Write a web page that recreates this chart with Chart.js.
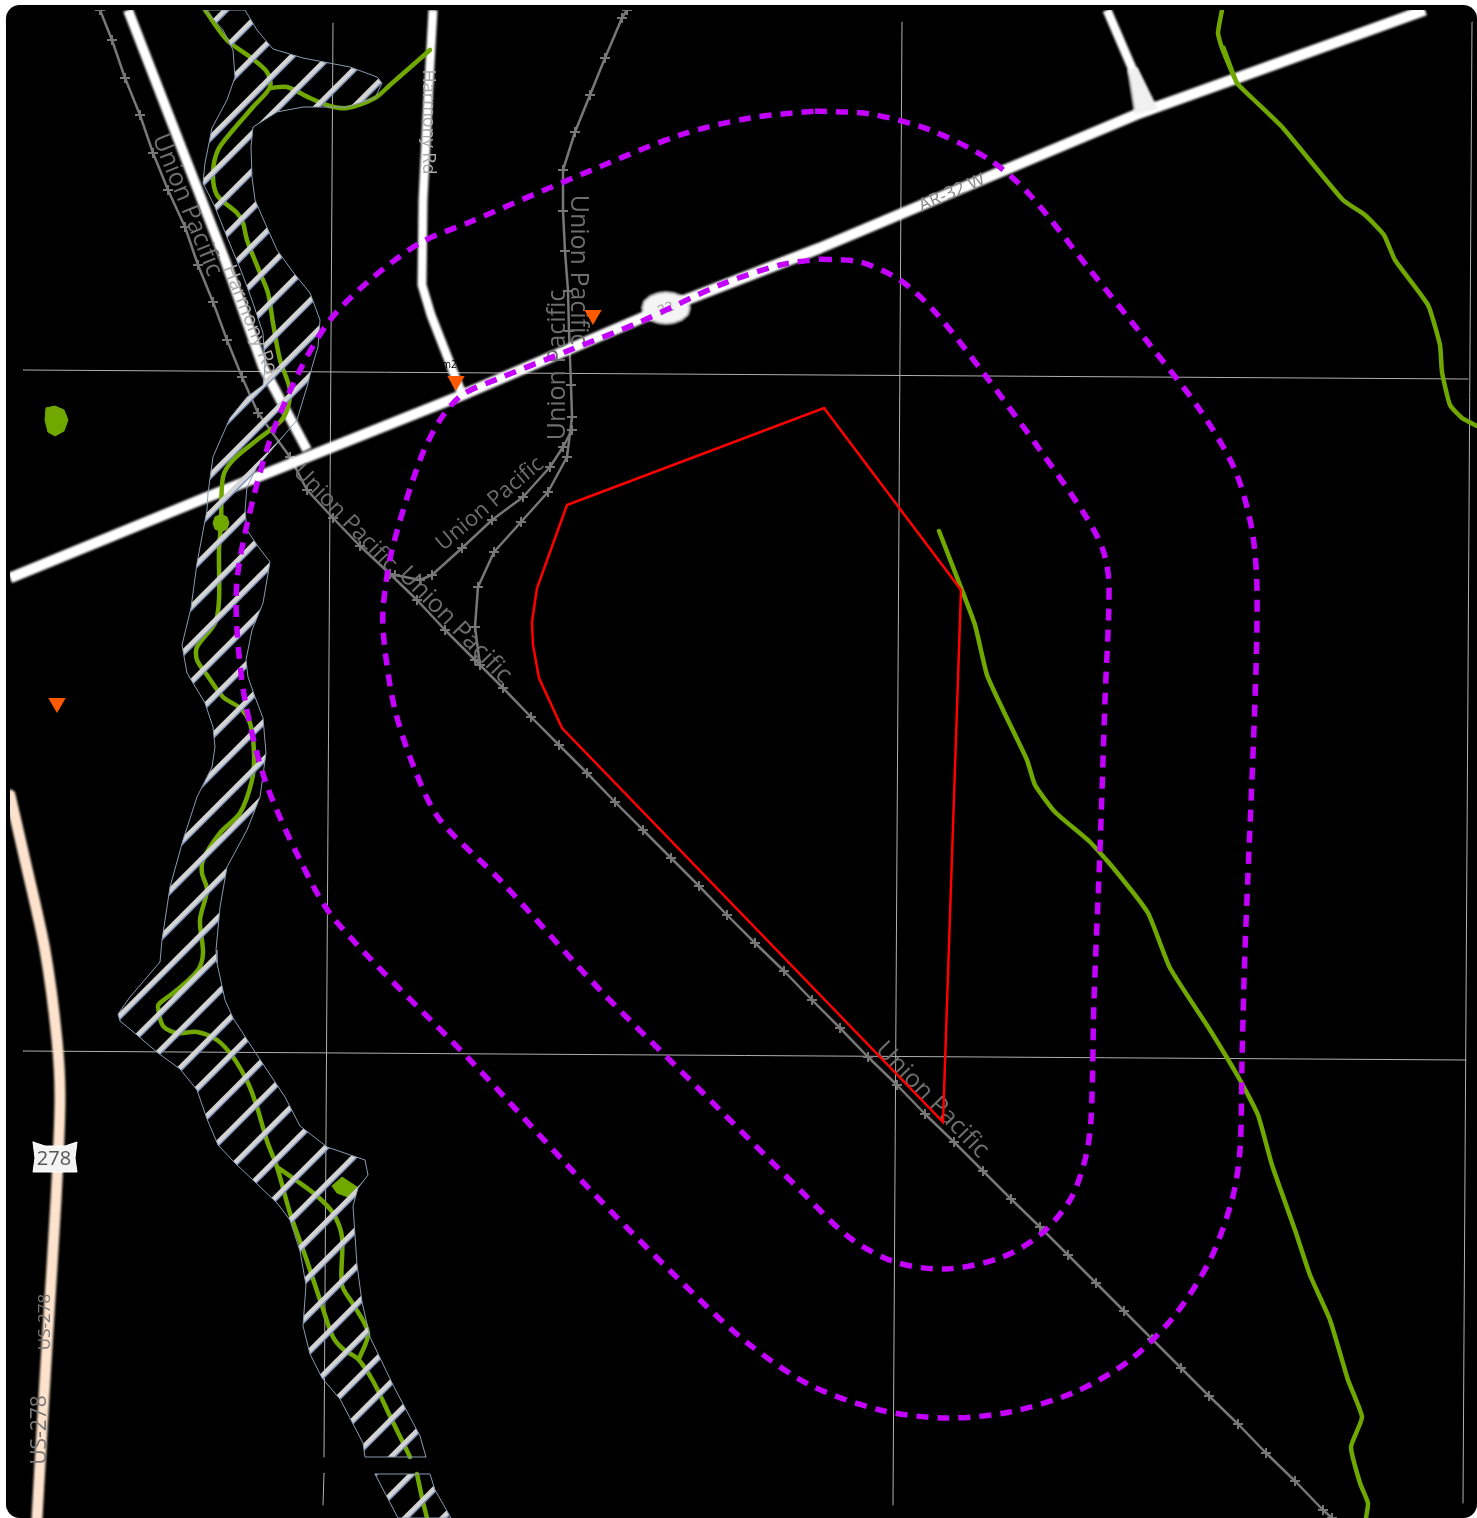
<!DOCTYPE html>
<html>
<head>
<meta charset="utf-8">
<title>Map</title>
<script src="https://cdn.jsdelivr.net/npm/chart.js@4"></script>
<style>
  html, body { margin: 0; padding: 0; background: #fff; }
  #frame { position: absolute; left: 6px; top: 5px; width: 1471px; height: 1513px; background: #000; border-radius: 14px; box-shadow: 0 0 1px #aaa; }
  #mapChart { position: absolute; left: 10px; top: 10px; }
</style>
</head>
<body>
<div id="frame"></div>
<canvas id="mapChart" width="1467" height="1508"></canvas>
<script>
// all values, in picture coordinates
const gridH1 = [[23,370],[1468,379]];
const gridH2 = [[23,1051],[1466,1060]];
const gridV1a = [[333,23],[324,1457]];
const gridV1b = [[324,1473],[323,1505]];
const gridV2 = [[902,22],[893,1505]];
const gridV3 = [[1472,22],[1463,1503]];

const mainRoad = [[10,578],[200,500],[300,460],[460,396],[665,308],[820,248],[1140,113],[1240,77],[1425,10]];
const highway = [[128,10],[225,260],[263,367],[307,450]];
const sideRoad = [[433,10],[428,100],[423,200],[422,285],[431,315],[462,394]];
const northRoad = [[1107,10],[1135,75],[1152,112]];
const northFlare = [[1128,70],[1137,68],[1157,108],[1135,114],[1128,70]];
const us278 = [[10,795],[25,860],[45,950],[57,1040],[60,1100],[56,1200],[48,1330],[42,1430],[37,1518]];
const shield32 = [[642,308],[644,301],[650,296],[658,293],[666,292],[674,293],[682,296],[688,301],[690,308],[688,315],[682,320],[674,323],[666,324],[658,323],[650,320],[644,315],[642,308]];
const shield278 = [[33,1142],[45,1146],[65,1146],[77,1142],[75,1158],[77,1172],[33,1172],[35,1158],[33,1142]];

const railMain = [[100,10],[112,40],[125,78],[140,115],[153,153],[168,190],[185,227],[198,265],[213,302],[227,340],[242,377],[258,413],[290,457],[307,490],[333,518],[360,546],[390,574],[417,600],[445,630],[475,660],[503,688],[531,717],[559,745],[587,773],[615,802],[643,830],[671,858],[699,886],[727,915],[755,943],[784,971],[812,1000],[840,1028],[868,1057],[897,1085],[925,1114],[954,1142],[983,1171],[1011,1199],[1040,1227],[1068,1255],[1096,1283],[1124,1311],[1152,1339],[1181,1368],[1209,1396],[1238,1424],[1266,1453],[1295,1481],[1323,1510],[1332,1518]];
const railNorth = [[627,10],[622,18],[605,58],[590,95],[575,132],[563,170],[563,211],[565,251],[568,291],[569,331],[571,385],[572,417],[567,457],[548,492],[521,522],[494,552],[478,587],[475,627],[480,665]];
const railBranch = [[572,430],[563,447],[550,467],[523,497],[492,520],[462,548],[432,575],[420,580],[395,575]];

const streamMain = [[205,10],[227,40],[250,57],[267,72],[270,87],[253,107],[233,130],[218,150],[213,173],[217,195],[237,213],[243,223],[247,240],[260,273],[268,293],[273,323],[280,360],[290,390],[287,410],[280,422],[257,440],[233,460],[223,477],[221,523],[219,550],[219,600],[215,623],[197,647],[197,660],[207,675],[223,697],[240,708],[250,723],[254,753],[252,780],[240,813],[220,833],[203,860],[202,873],[207,890],[200,920],[203,953],[198,970],[177,990],[160,1003],[158,1007],[163,1026],[177,1033],[197,1032],[217,1040],[233,1057],[248,1083],[257,1107],[267,1141],[277,1167],[290,1213],[307,1261],[323,1309],[333,1337],[343,1349],[358,1359],[373,1381],[390,1416],[410,1457]];
const streamEast = [[270,88],[287,87],[310,98],[330,106],[347,108],[375,98],[390,85],[430,50]];
const streamLoop = [[277,1167],[297,1181],[317,1196],[333,1213],[342,1237],[342,1285],[353,1304],[368,1333],[359,1359]];
const streamLow = [[417,1474],[422,1498],[427,1518]];
const streamNE = [[1222,10],[1218,33],[1222,48],[1237,83],[1252,98],[1283,128],[1343,200],[1365,215],[1384,235],[1395,260],[1428,305],[1440,345],[1442,372],[1450,405],[1462,418],[1477,426]];
const streamNE2 = [[1224,47],[1238,85]];
const streamCentre = [[939,531],[960,585],[975,625],[987,675],[1003,710],[1027,760],[1035,785],[1055,812],[1090,842],[1115,870],[1148,913],[1170,968],[1210,1030],[1240,1080],[1258,1115],[1272,1165],[1295,1230],[1310,1275],[1330,1320],[1348,1380],[1362,1417],[1351,1447],[1360,1483],[1368,1503],[1366,1518]];
const pondA = [[46,408],[55,406],[64,410],[68,420],[64,431],[55,436],[48,432],[45,420],[46,408]];
const pondB = [[332,1186],[342,1177],[357,1187],[348,1197],[337,1193],[332,1186]];
const pondC = [[221,514],[227,517],[229,523],[227,529],[221,532],[215,529],[213,523],[215,517],[221,514]];

const riverUpper = [[245,10],[257,30],[273,49],[303,58],[350,67],[377,77],[382,83],[375,98],[347,107],[303,107],[277,112],[253,127],[251,147],[252,177],[255,200],[265,223],[277,250],[293,272],[310,293],[320,320],[318,347],[312,367],[307,387],[302,403],[297,420],[280,440],[257,467],[247,487],[245,510],[247,530],[257,545],[270,562],[263,603],[252,630],[246,660],[248,677],[255,697],[263,718],[266,753],[260,797],[247,830],[227,867],[220,907],[216,950],[217,963],[225,1000],[233,1018],[257,1055],[285,1097],[300,1126],[327,1147],[365,1160],[368,1175],[358,1188],[353,1206],[357,1265],[362,1302],[370,1337],[393,1385],[420,1436],[426,1457],[365,1457],[363,1443],[340,1399],[322,1378],[310,1354],[303,1326],[306,1285],[300,1251],[290,1220],[277,1203],[255,1182],[235,1163],[218,1145],[207,1119],[197,1090],[180,1069],[158,1053],[137,1035],[120,1021],[118,1014],[130,997],[160,962],[162,940],[170,887],[183,840],[197,797],[212,767],[215,747],[213,727],[205,703],[187,673],[182,645],[191,608],[197,563],[207,510],[208,493],[213,457],[230,418],[247,397],[263,385],[265,367],[263,333],[253,303],[242,273],[227,237],[215,207],[203,183],[205,163],[212,128],[227,100],[235,77],[233,50],[223,30],[205,10],[245,10]];
const riverLower = [[375,1474],[430,1474],[435,1490],[451,1518],[398,1518],[375,1474]];

const parcel = [[567,505],[824,408],[961,590],[943,1122],[562,728],[539,678],[533,645],[532,622],[537,588],[567,505]];
const bufferInner = [[820,259],[860,262],[900,280],[935,312],[985,375],[1040,450],[1085,515],[1103,550],[1109,585],[1105,700],[1100,850],[1094,1000],[1091,1120],[1085,1160],[1070,1200],[1040,1235],[1000,1258],[945,1269],[895,1262],[850,1238],[800,1190],[700,1090],[600,990],[500,880],[440,820],[415,770],[395,710],[385,650],[383,610],[392,550],[420,460],[440,420],[462,395],[500,378],[570,350],[640,322],[720,285],[780,265],[820,259]];
const bufferOuter = [[815,111],[870,114],[930,130],[990,160],[1030,195],[1090,270],[1150,345],[1200,410],[1235,470],[1252,530],[1257,590],[1255,700],[1245,950],[1242,1060],[1240,1150],[1232,1200],[1210,1260],[1175,1315],[1130,1360],[1075,1392],[1010,1412],[945,1418],[880,1410],[810,1385],[750,1345],[700,1300],[600,1200],[470,1060],[335,920],[300,860],[265,780],[245,700],[237,630],[237,580],[248,520],[270,440],[300,370],[330,320],[370,280],[420,243],[470,222],[580,175],[680,135],[750,118],[815,111]];
const wells = [[456,381],[593,315],[57,703]];

const labelTexts = ['Union Pacific','Union Pacific','Union Pacific','Union Pacific','Union Pacific','Union Pacific','Union Pacific','AR-32 W','32','278','US-278','US-278','Harmony Rd','Harmony Rd','m24','m'];
const labelX = [187,578,558,490,345,455,932,952,666,54,45,40,428,250,452,580];
const labelY = [205,270,365,504,518,625,1100,193,309,1159,1322,1430,122,320,365,300];
const labelAngles = [68,90,-90,-40,46,46,46,-23,-22,0,-90,-90,90,68,0,0];
const labelSizes = [25,25,25,22,23,25,25,18,14,20,17,21,18,20,10,8];
const labelColors = ['#6e6e6e','#6e6e6e','#6e6e6e','#6e6e6e','#6e6e6e','#6e6e6e','#6e6e6e','#888','#999','#555','#777','#777','#aaa','#aaa','#000','#000'];

// diagonal hatch for the river
const tile = document.createElement('canvas');
tile.width = 75; tile.height = 75;
const tc = tile.getContext('2d');
function stripe(offset, width, color) {
  tc.strokeStyle = color;
  tc.lineWidth = width;
  [0, 75, 150].forEach(s => {
    tc.beginPath();
    tc.moveTo(-10, s + offset + 10);
    tc.lineTo(s + offset + 10, -10);
    tc.stroke();
  });
}
stripe(7, 5, '#7f93bd');
stripe(0, 9, '#d4d4d4');
const hatch = tc.createPattern(tile, 'repeat');
hatch.setTransform(new DOMMatrix().translate(27.5, 0).scale(0.5));

function pts(list) {
  return list.map(p => ({x: p[0], y: p[1]}));
}
function line(list, color, width, extra) {
  return Object.assign({data: pts(list), showLine: true, borderColor: color, borderWidth: width, pointRadius: 0, tension: 0, borderCapStyle: 'round', borderJoinStyle: 'round'}, extra || {});
}
function rail(list) {
  return line(list, '#777', 2.5, {pointRadius: 5, pointStyle: 'cross', pointBorderColor: '#777', pointBorderWidth: 2, pointBackgroundColor: '#777', blur: 0.6});
}
function road(list, width) {
  return line(list, '#fff', width, {blur: 1.1, borderCapStyle: 'butt'});
}
const GREEN = '#70a800', PURPLE = '#c400ff', GRID = '#b0b0b0';

// listed bottom to top
const datasets = [
  line(gridH1, GRID, 1), line(gridH2, GRID, 1), line(gridV1a, GRID, 1), line(gridV1b, GRID, 1), line(gridV2, GRID, 1), line(gridV3, GRID, 1),
  rail(railMain), rail(railNorth), rail(railBranch),
  line(us278, '#fde3cd', 11, {tension: 0.3, blur: 0.8}),
  road(highway, 10), road(sideRoad, 9), road(northRoad, 9), road(mainRoad, 11),
  line(northFlare, '#f0f0f0', 1, {shapeFill: '#f0f0f0', blur: 1}),
  line(shield32, '#f4f4f4', 1, {shapeFill: '#f4f4f4', blur: 1}),
  line(shield278, '#fff', 1, {shapeFill: '#f4f4f4', blur: 0.6}),
  line(streamMain, GREEN, 4.5, {tension: 0.3}), line(streamEast, GREEN, 4.5, {tension: 0.3}), line(streamLoop, GREEN, 4.5, {tension: 0.3}), line(streamLow, GREEN, 4.5),
  line(streamNE, GREEN, 4.5, {tension: 0.15}), line(streamNE2, GREEN, 3), line(streamCentre, GREEN, 4.5, {tension: 0.15}),
  line(pondA, GREEN, 1, {shapeFill: GREEN}), line(pondB, GREEN, 1, {shapeFill: GREEN}), line(pondC, GREEN, 1, {shapeFill: GREEN}),
  line(riverUpper, '#8a9ab0', 1, {shapeFill: hatch}), line(riverLower, '#8a9ab0', 1, {shapeFill: hatch}),
  line(parcel, '#ff0000', 2.5, {drawLabelsBefore: true, borderJoinStyle: 'miter'}),
  line(bufferInner, PURPLE, 5.5, {tension: 0.3, borderDash: [12, 9], borderCapStyle: 'butt'}),
  line(bufferOuter, PURPLE, 5.5, {tension: 0.3, borderDash: [12, 9], borderCapStyle: 'butt'}),
  {data: pts(wells), showLine: false, pointStyle: 'triangle', pointRotation: 180, pointRadius: 10, pointBackgroundColor: '#ff5a00', pointBorderColor: '#ff5a00', pointBorderWidth: 0}
];
datasets.forEach((d, i) => { d.order = datasets.length - i; });

// closed fills (pattern), soft edges and rotated map labels
const mapExtras = {
  id: 'mapExtras',
  beforeDatasetDraw(chart, args) {
    const ds = chart.data.datasets[args.index];
    const ctx = chart.ctx;
    if (ds.drawLabelsBefore) {
      labelTexts.forEach((t, i) => {
        ctx.save();
        ctx.translate(chart.scales.x.getPixelForValue(labelX[i]), chart.scales.y.getPixelForValue(labelY[i]));
        ctx.rotate(labelAngles[i] * Math.PI / 180);
        ctx.font = labelSizes[i] + 'px "Open Sans", sans-serif';
        ctx.fillStyle = labelColors[i];
        ctx.textAlign = 'center';
        ctx.textBaseline = 'middle';
        if (labelSizes[i] > 10) ctx.filter = 'blur(0.7px)';
        ctx.fillText(t, 0, 0);
        ctx.restore();
      });
    }
    if (ds.blur) ctx.filter = 'blur(' + ds.blur + 'px)';
    if (ds.shapeFill) {
      ctx.save();
      ctx.beginPath();
      args.meta.data.forEach((p, i) => { i ? ctx.lineTo(p.x, p.y) : ctx.moveTo(p.x, p.y); });
      ctx.closePath();
      ctx.fillStyle = ds.shapeFill;
      ctx.fill();
      ctx.restore();
    }
  },
  afterDatasetDraw(chart) {
    chart.ctx.filter = 'none';
  }
};

new Chart(document.getElementById('mapChart'), {
  type: 'scatter',
  data: {datasets: datasets},
  options: {
    responsive: false,
    animation: false,
    devicePixelRatio: 1,
    layout: {padding: 0, autoPadding: false},
    scales: {
      x: {type: 'linear', display: false, min: 10, max: 1477},
      y: {type: 'linear', display: false, min: 10, max: 1518, reverse: true}
    },
    plugins: {legend: {display: false}, tooltip: {enabled: false}}
  },
  plugins: [mapExtras]
});
</script>
</body>
</html>
